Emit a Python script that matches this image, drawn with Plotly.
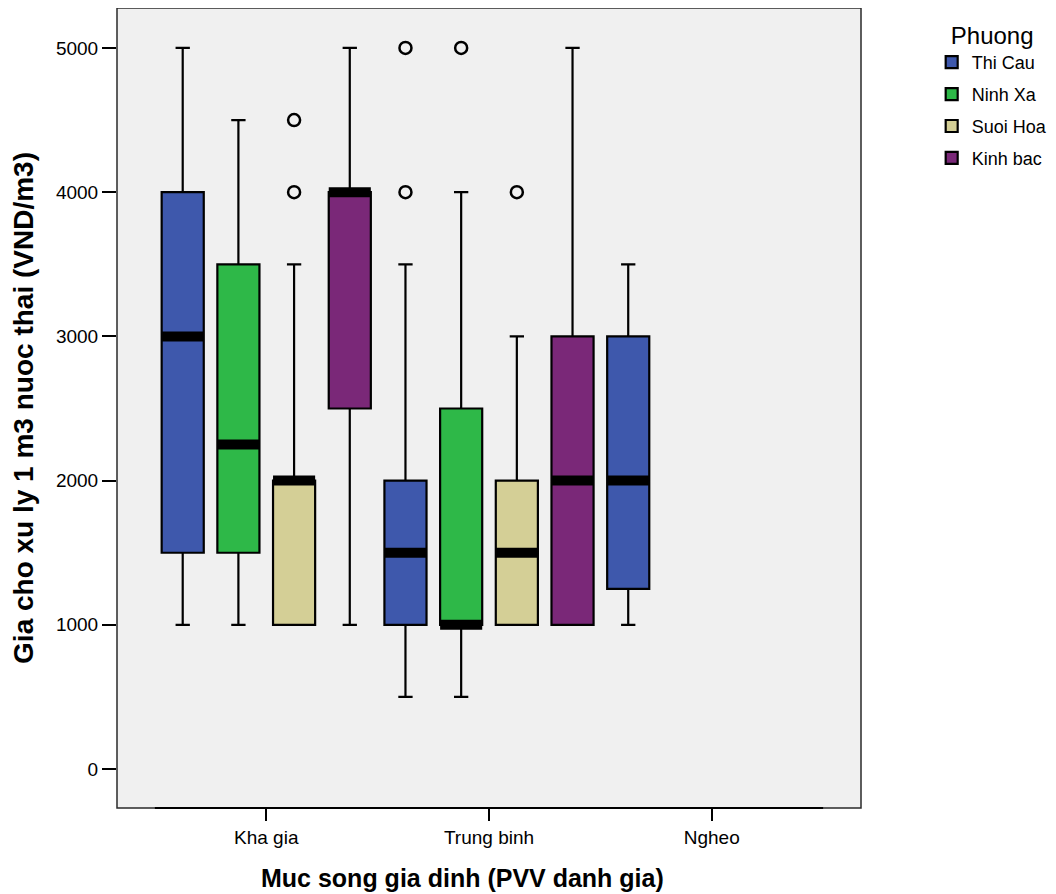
import plotly.graph_objects as go

categories = ["Kha gia", "Trung binh", "Ngheo"]
series = ["Thi Cau", "Ninh Xa", "Suoi Hoa", "Kinh bac"]
colors = ["#3e58ac", "#2eb848", "#d4cf96", "#7a2878"]

# Box statistics per series, per category (VND/m3)
thi_cau_low = [1000, 500, 1000]
thi_cau_q1 = [1500, 1000, 1250]
thi_cau_med = [3000, 1500, 2000]
thi_cau_q3 = [4000, 2000, 3000]
thi_cau_up = [5000, 3500, 3500]

ninh_xa_low = [1000, 500]
ninh_xa_q1 = [1500, 1000]
ninh_xa_med = [2250, 1000]
ninh_xa_q3 = [3500, 2500]
ninh_xa_up = [4500, 4000]

suoi_hoa_low = [1000, 1000]
suoi_hoa_q1 = [1000, 1000]
suoi_hoa_med = [2000, 1500]
suoi_hoa_q3 = [2000, 2000]
suoi_hoa_up = [3500, 3000]

kinh_bac_low = [1000, 1000]
kinh_bac_q1 = [2500, 1000]
kinh_bac_med = [4000, 2000]
kinh_bac_q3 = [4000, 3000]
kinh_bac_up = [5000, 5000]

# Outliers: (category index, value)
thi_cau_out = [(1, 4000), (1, 5000)]
ninh_xa_out = [(1, 5000)]
suoi_hoa_out = [(0, 4000), (0, 4500), (1, 4000)]
kinh_bac_out = []

x_title = "Muc song gia dinh (PVV danh gia)"
y_title = "Gia cho xu ly 1 m3 nuoc thai (VND/m3)"
legend_title = "Phuong"

stats = [
    (thi_cau_low, thi_cau_q1, thi_cau_med, thi_cau_q3, thi_cau_up, thi_cau_out),
    (ninh_xa_low, ninh_xa_q1, ninh_xa_med, ninh_xa_q3, ninh_xa_up, ninh_xa_out),
    (suoi_hoa_low, suoi_hoa_q1, suoi_hoa_med, suoi_hoa_q3, suoi_hoa_up, suoi_hoa_out),
    (kinh_bac_low, kinh_bac_q1, kinh_bac_med, kinh_bac_q3, kinh_bac_up, kinh_bac_out),
]

n_series = len(series)
slot = 1.0 / n_series
box_w = 0.189
half = box_w / 2

FONT = "Arial, Liberation Sans, Helvetica, sans-serif"

fig = go.Figure()

med_x, med_y = [], []
out_x, out_y = [], []
for k, (name, col, st) in enumerate(zip(series, colors, stats)):
    low, q1, med, q3, up, outl = st
    n = len(q1)
    xs = [i + (k - (n_series - 1) / 2) * slot for i in range(n)]
    fig.add_trace(go.Box(
        name=name, x=xs, q1=q1, median=med, q3=q3,
        lowerfence=low, upperfence=up, width=box_w,
        fillcolor=col, line=dict(color="black", width=2.2),
        whiskerwidth=0.34, boxpoints=False, showlegend=True,
        legendgroup=name, hoverinfo="skip",
    ))
    for x, m in zip(xs, med):
        med_x += [x - half, x + half, None]
        med_y += [m, m, None]
    for ci, v in outl:
        out_x.append(ci + (k - (n_series - 1) / 2) * slot)
        out_y.append(v)

fig.add_trace(go.Scatter(
    x=med_x, y=med_y, mode="lines",
    line=dict(color="black", width=10), showlegend=False, hoverinfo="skip",
))
fig.add_trace(go.Scatter(
    x=out_x, y=out_y, mode="markers",
    marker=dict(symbol="circle-open", size=12, color="black",
                line=dict(color="black", width=2.5)),
    showlegend=False, hoverinfo="skip",
))

# plot frame and inner x-axis line
fig.add_shape(type="rect", xref="paper", yref="paper", x0=0, x1=1, y0=0, y1=1,
              line=dict(color="#2a2a2a", width=1.5), layer="above")
fig.add_shape(type="line", xref="x", yref="paper", x0=-0.5, x1=2.5, y0=0, y1=0,
              line=dict(color="black", width=2), layer="above")

fig.add_annotation(
    text="<b>" + x_title + "</b>", xref="paper", yref="paper",
    x=0.465, y=-0.088, xanchor="center", yanchor="middle",
    showarrow=False, font=dict(size=25, family=FONT, color="black"),
)

fig.update_layout(
    width=1056, height=894,
    margin=dict(l=109, r=203, t=0, b=94),
    paper_bgcolor="white", plot_bgcolor="#f0f0f0",
    boxmode="overlay",
    font=dict(family=FONT, size=19, color="black"),
    legend=dict(
        x=1.095, y=0.994, xanchor="left", yanchor="top",
        title=dict(text=legend_title, font=dict(size=24), side="top center"),
        font=dict(size=18), tracegroupgap=5.5, itemwidth=30,
        bgcolor="rgba(0,0,0,0)",
    ),
    xaxis=dict(
        range=[-0.67, 2.67], tickmode="array", tickvals=[0, 1, 2],
        ticktext=categories, ticks="outside", ticklen=12, tickwidth=1.5,
        tickcolor="black", showgrid=False, zeroline=False, showline=False,
        tickfont=dict(size=19),
    ),
    yaxis=dict(
        range=[-270, 5277], tickmode="array",
        tickvals=[0, 1000, 2000, 3000, 4000, 5000],
        ticks="outside", ticklen=14, tickwidth=1.5, tickcolor="black",
        showgrid=False, zeroline=False, showline=False,
        tickfont=dict(size=19),
        title=dict(text="<b>" + y_title + "</b>",
                   font=dict(size=28), standoff=14),
    ),
)

fig.write_html("out.html")
